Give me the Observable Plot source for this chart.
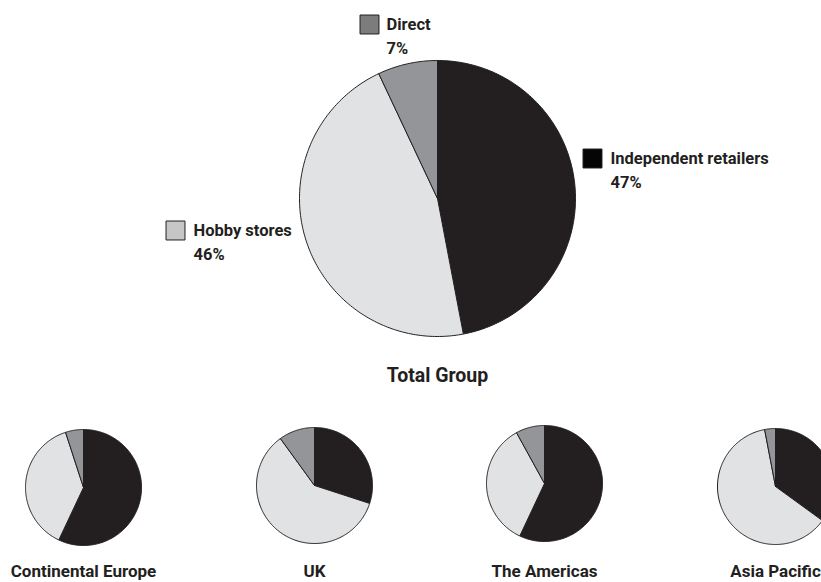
<!DOCTYPE html>
<html>
<head>
<meta charset="utf-8">
<script src="https://cdn.jsdelivr.net/npm/d3@7"></script>
<script src="https://cdn.jsdelivr.net/npm/@observablehq/plot@0.6"></script>
<style>
  html, body { margin: 0; padding: 0; background: #fff; overflow: hidden; }
  svg { display: block; }
</style>
</head>
<body>
<div id="chart"></div>
<script>
// ---- data ----
const channels = ["Independent retailers", "Hobby stores", "Direct"];
const groups = ["Total Group", "Continental Europe", "UK", "The Americas", "Asia Pacific"];
const totalGroup = [47, 46, 7];
const continentalEurope = [57, 38, 5];
const uk = [30, 60, 10];
const theAmericas = [57, 35, 8];
const asiaPacific = [35, 62, 3];
const totalLabels = ["47%", "46%", "7%"];

// ---- layout / style ----
const W = 821, H = 582;
const sliceColors = ["#231f20", "#e1e2e4", "#939598"];
const swatchColors = ["#050505", "#c6c6c6", "#7c7c7c"];
const ink = "#231f20";
const font = "Roboto, 'Liberation Sans', sans-serif";
const pies = [
  {name: groups[0], values: totalGroup, cx: 437, cy: 198, r: 138, ly: 375.5, fs: 19.5},
  {name: groups[1], values: continentalEurope, cx: 83, cy: 487, r: 58, ly: 571, fs: 17},
  {name: groups[2], values: uk, cx: 314, cy: 485, r: 58, ly: 571, fs: 17},
  {name: groups[3], values: theAmericas, cx: 544, cy: 483, r: 58, ly: 571, fs: 17},
  {name: groups[4], values: asiaPacific, cx: 775, cy: 486, r: 58, ly: 571, fs: 17}
];
// legend positions for the total pie (swatch centre, text start)
const legendPos = [
  {sx: 592, sy: 158, tx: 610},
  {sx: 175, sy: 230, tx: 193},
  {sx: 369, sy: 24, tx: 386}
];

// ---- build slice outlines from the values ----
const pieGen = d3.pie().sort(null).value(d => d);
const slicePts = [];
pies.forEach((p, pi) => {
  const arcs = pieGen(p.values);
  arcs.forEach((a, i) => {
    const key = pi + "-" + i;
    const pts = [[p.cx, p.cy]];
    const n = Math.max(2, Math.ceil((a.endAngle - a.startAngle) / (Math.PI / 180)));
    for (let k = 0; k <= n; k++) {
      const t = a.startAngle + (a.endAngle - a.startAngle) * k / n;
      pts.push([p.cx + p.r * Math.sin(t), p.cy - p.r * Math.cos(t)]);
    }
    pts.push([p.cx, p.cy]);
    pts.forEach(([x, y]) => slicePts.push({key, channel: channels[i], x, y}));
  });
});

const legend = channels.map((c, i) => ({
  channel: c, label: totalLabels[i], swatch: swatchColors[i], ...legendPos[i]
}));

const chart = Plot.plot({
  width: W,
  height: H,
  margin: 0,
  x: {domain: [0, W], range: [0, W], axis: null},
  y: {domain: [0, H], range: [0, H], axis: null},
  color: {domain: channels, range: sliceColors},
  style: {fontFamily: font, background: "#fff", overflow: "hidden"},
  marks: [
    Plot.line(slicePts, {
      x: "x", y: "y", z: "key", fill: "channel",
      stroke: ink, strokeWidth: 1, strokeLinejoin: "round", curve: "linear"
    }),
    // legend swatches
    Plot.dot(legend, {
      x: "sx", y: "sy", symbol: "square", r: 10.7,
      fill: d => d.swatch, stroke: ink, strokeWidth: 1
    }),
    Plot.text(legend, {
      x: "tx", y: "sy", text: "channel", textAnchor: "start",
      fontSize: 16.5, fontWeight: "bold", fill: ink, lineAnchor: "middle"
    }),
    Plot.text(legend, {
      x: "tx", y: d => d.sy + 24.5, text: "label", textAnchor: "start",
      fontSize: 16.5, fontWeight: "bold", fill: ink, lineAnchor: "middle"
    }),
    // pie titles
    Plot.text(pies, {
      x: "cx", y: "ly", text: "name",
      fontSize: d => d.fs, fontWeight: "bold", fill: ink
    })
  ]
});
document.getElementById("chart").appendChild(chart);
</script>
</body>
</html>
